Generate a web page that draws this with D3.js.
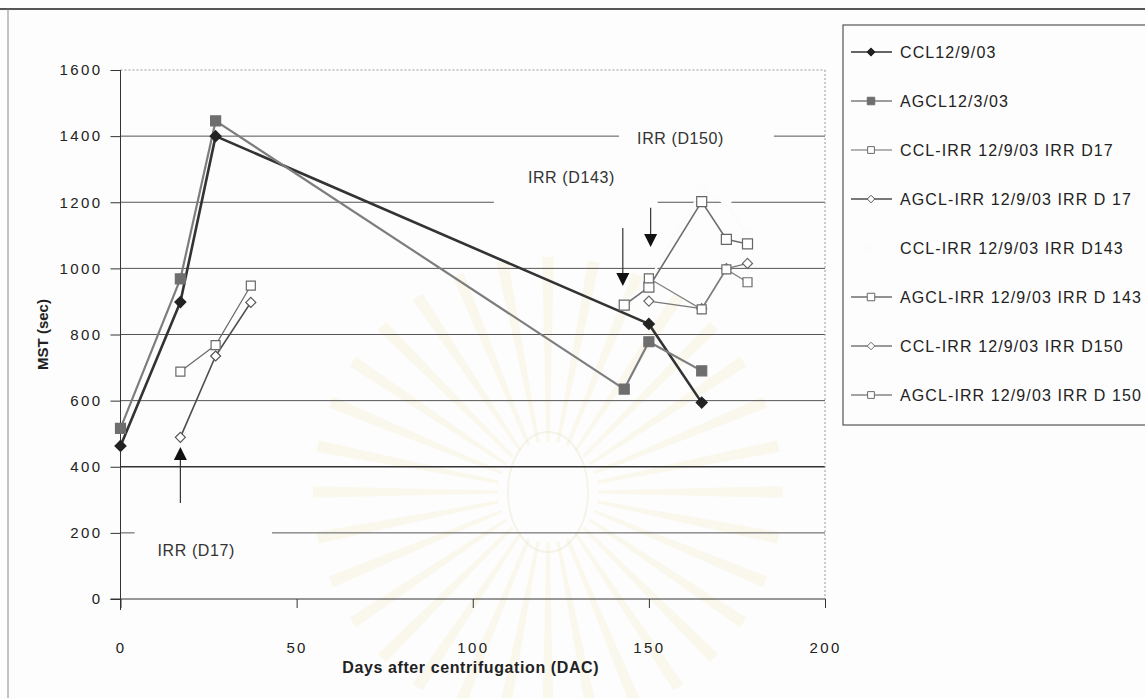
<!DOCTYPE html>
<html><head><meta charset="utf-8">
<script src="https://cdn.jsdelivr.net/npm/d3@7"></script>
<style>
html,body{margin:0;padding:0;background:#fff;}
svg{display:block;font-family:"Liberation Sans",Arial,sans-serif;}
</style></head><body>
<svg id="chart" width="1145" height="698"></svg>
<script>
// MST (mean survival time) after centrifugation, control vs. irradiated lots
const seriesNames = [
  "CCL12/9/03", "AGCL12/3/03",
  "CCL-IRR 12/9/03 IRR D17", "AGCL-IRR 12/9/03 IRR D 17",
  "CCL-IRR 12/9/03 IRR D143", "AGCL-IRR 12/9/03 IRR D 143",
  "CCL-IRR 12/9/03 IRR D150", "AGCL-IRR 12/9/03 IRR D 150"
];
const cclDay = [0, 17, 27, 150, 165];
const cclMst = [463, 898, 1400, 832, 594];
const agclDay = [0, 17, 27, 143, 150, 165];
const agclMst = [516, 968, 1446, 635, 778, 690];
const cclIrr17Day = [17, 27, 37];
const cclIrr17Mst = [688, 768, 948];
const agclIrr17Day = [17, 27, 37];
const agclIrr17Mst = [489, 735, 897];
const cclIrr143Day = [143, 150, 165, 172, 178];
const cclIrr143Mst = [895, 962, 1235, 1195, 1100];
const agclIrr143Day = [143, 150, 165, 172, 178];
const agclIrr143Mst = [889, 943, 1202, 1088, 1074];
const cclIrr150Day = [150, 165, 172, 178];
const cclIrr150Mst = [901, 878, 999, 1015];
const agclIrr150Day = [150, 165, 172, 178];
const agclIrr150Mst = [970, 876, 997, 958];

const xTicks = [0, 50, 100, 150, 200];
const yTicks = [0, 200, 400, 600, 800, 1000, 1200, 1400, 1600];

// irradiation markers: label text, label anchor (day, MST)
const noteText = ["IRR (D17)", "IRR (D143)", "IRR (D150)"];
const noteDay = [21.5, 128, 159];
const noteMst = [145, 1273, 1391];
// arrows: day, tail MST, head MST
const arrowDay = [17, 142.6, 150.5];
const arrowFrom = [290, 1122, 1183];
const arrowTo = [460, 947, 1065];

const W = 1145, H = 698;
const svg = d3.select("#chart");
const x = d3.scaleLinear().domain([0, 200]).range([120.5, 825]);
const y = d3.scaleLinear().domain([0, 1600]).range([599, 70]);

svg.append("rect").attr("width", W).attr("height", H).attr("fill", "#fdfdfd");

// faint seal watermark behind the plot
const wm = svg.append("g").attr("transform", "translate(548,492)");
d3.range(32).forEach(i => {
  const a = i / 32 * 2 * Math.PI, da = 0.05;
  const r0 = 50, r1 = 235;
  const p = [[r0 * Math.cos(a - da * 0.6), r0 * Math.sin(a - da * 0.6)],
             [r1 * Math.cos(a - da * 0.5), r1 * Math.sin(a - da * 0.5)],
             [r1 * Math.cos(a + da * 0.5), r1 * Math.sin(a + da * 0.5)],
             [r0 * Math.cos(a + da * 0.6), r0 * Math.sin(a + da * 0.6)]];
  wm.append("path").attr("d", "M" + p.join("L") + "Z")
    .attr("fill", "#f3e4b4").attr("opacity", 0.22);
});
wm.append("ellipse").attr("rx", 40).attr("ry", 60).attr("fill", "none")
  .attr("stroke", "#ece3cb").attr("stroke-width", 2).attr("opacity", 0.4);

// outer frame
svg.append("line").attr("x1", 0).attr("x2", W).attr("y1", 9).attr("y2", 9)
  .attr("stroke", "#555").attr("stroke-width", 2);
svg.append("line").attr("x1", 8).attr("x2", 8).attr("y1", 9).attr("y2", H)
  .attr("stroke", "#888").attr("stroke-width", 1);

// gridlines
const grid = svg.append("g");
yTicks.filter(v => v > 0 && v < 1600).forEach(v => {
  grid.append("line").attr("x1", x(0)).attr("x2", x(200))
    .attr("y1", y(v)).attr("y2", y(v))
    .attr("stroke", v === 400 ? "#333" : "#555")
    .attr("stroke-width", v === 400 ? 1.6 : 1);
});
grid.append("line").attr("x1", x(0)).attr("x2", x(200)).attr("y1", y(1600)).attr("y2", y(1600))
  .attr("stroke", "#999").attr("stroke-dasharray", "2,2");
grid.append("line").attr("x1", x(200)).attr("x2", x(200)).attr("y1", y(1600)).attr("y2", y(0))
  .attr("stroke", "#999").attr("stroke-dasharray", "2,2");

// white boxes behind annotation labels
const boxes = [[4, 43, 100, 233], [106, 152.5, 1175, 1330], [141.5, 185.5, 1355, 1445]];
boxes.forEach(b => {
  svg.append("rect").attr("x", x(b[0])).attr("y", y(b[3]))
    .attr("width", x(b[1]) - x(b[0])).attr("height", y(b[2]) - y(b[3]))
    .attr("fill", "#fdfdfd");
});

// axes
const tickFont = g => g.selectAll("text")
  .attr("font-size", 15).attr("fill", "#222").attr("letter-spacing", "2.4px")
  .attr("font-family", "'Liberation Sans',Arial,sans-serif");
const yAxis = svg.append("g").attr("transform", `translate(${x(0)},0)`)
  .call(d3.axisLeft(y).tickValues(yTicks).tickSize(10).tickPadding(8).tickFormat(d3.format("d")));
yAxis.select(".domain").attr("stroke", "#333").attr("d", `M0,${y(1600)}V${y(0) + 11}`);
yAxis.selectAll(".tick line").attr("stroke", "#333");
yAxis.call(tickFont);
const xAxis = svg.append("g").attr("transform", `translate(0,${y(0)})`)
  .call(d3.axisBottom(x).tickValues(xTicks).tickSize(9).tickPadding(34));
xAxis.select(".domain").attr("stroke", "#333").attr("d", `M${x(0) - 10},0H${x(200)}`);
xAxis.selectAll(".tick line").attr("stroke", "#333");
xAxis.call(tickFont);

svg.append("text").attr("x", (x(0) + x(200)) / 2 - 2).attr("y", 673)
  .attr("text-anchor", "middle").attr("font-size", 16).attr("font-weight", "bold")
  .attr("letter-spacing", "0.6px").attr("fill", "#222").text("Days after centrifugation (DAC)");
svg.append("text").attr("transform", `translate(48,${(y(0) + y(1600)) / 2}) rotate(-90)`)
  .attr("text-anchor", "middle").attr("font-size", 15).attr("font-weight", "bold")
  .attr("fill", "#222").text("MST (sec)");

// series styling
const styles = [
  { days: cclDay, mst: cclMst, line: "#333", lw: 2.6, shape: "diamond", fill: "#222", stroke: "#222", size: 11 },
  { days: agclDay, mst: agclMst, line: "#7d7d7d", lw: 2.2, shape: "square", fill: "#6e6e6e", stroke: "#6e6e6e", size: 10 },
  { days: cclIrr17Day, mst: cclIrr17Mst, line: "#6a6a6a", lw: 1.2, shape: "square", fill: "#fff", stroke: "#6a6a6a", size: 9 },
  { days: agclIrr17Day, mst: agclIrr17Mst, line: "#4d4d4d", lw: 1.6, shape: "diamond", fill: "#fff", stroke: "#555", size: 10 },
  { days: cclIrr143Day, mst: cclIrr143Mst, line: "#fbfbfb", lw: 2.2, shape: "square", fill: "#fcfcfc", stroke: "#fcfcfc", size: 9 },
  { days: agclIrr143Day, mst: agclIrr143Mst, line: "#6e6e6e", lw: 1.6, shape: "square", fill: "#fff", stroke: "#666", size: 10 },
  { days: cclIrr150Day, mst: cclIrr150Mst, line: "#777", lw: 1.3, shape: "diamond", fill: "#fff", stroke: "#666", size: 10 },
  { days: agclIrr150Day, mst: agclIrr150Mst, line: "#858585", lw: 1.3, shape: "square", fill: "#fff", stroke: "#6a6a6a", size: 9 }
];

const markerPath = (shape, s) => {
  const h = s / 2;
  return shape === "square"
    ? `M${-h},${-h}H${h}V${h}H${-h}Z`
    : `M0,${-h}L${h},0L0,${h}L${-h},0Z`;
};

const lineGen = d3.line().x(d => x(d[0])).y(d => y(d[1]));
const plot = svg.append("g");
styles.forEach(s => {
  const pts = s.days.map((d, i) => [d, s.mst[i]]);
  plot.append("path").datum(pts).attr("d", lineGen).attr("fill", "none")
    .attr("stroke", s.line).attr("stroke-width", s.lw).attr("stroke-linejoin", "round");
});
styles.forEach(s => {
  const pts = s.days.map((d, i) => [d, s.mst[i]]);
  plot.selectAll(null).data(pts).join("path")
    .attr("transform", d => `translate(${x(d[0])},${y(d[1])})`)
    .attr("d", markerPath(s.shape, s.size))
    .attr("fill", s.fill).attr("stroke", s.stroke).attr("stroke-width", 1.2);
});

// annotation labels and arrows
noteText.forEach((t, i) => {
  svg.append("text").attr("x", x(noteDay[i])).attr("y", y(noteMst[i]) + 5)
    .attr("text-anchor", "middle").attr("font-size", 16).attr("letter-spacing", "0.6px")
    .attr("fill", "#333").text(t);
});
arrowDay.forEach((d, i) => {
  const x0 = x(d), yTail = y(arrowFrom[i]), yHead = y(arrowTo[i]);
  const dir = yHead < yTail ? -1 : 1;
  const headLen = 13;
  svg.append("line").attr("x1", x0).attr("x2", x0).attr("y1", yTail).attr("y2", yHead - dir * headLen)
    .attr("stroke", "#333").attr("stroke-width", 1.2);
  svg.append("path")
    .attr("d", `M${x0},${yHead}L${x0 - 6.5},${yHead - dir * headLen}L${x0 + 6.5},${yHead - dir * headLen}Z`)
    .attr("fill", "#111");
});

// legend
const lg = svg.append("g");
lg.append("rect").attr("x", 843).attr("y", 25).attr("width", 330).attr("height", 400)
  .attr("fill", "#fdfdfd").attr("stroke", "#555").attr("stroke-width", 1.2);
seriesNames.forEach((name, i) => {
  const s = styles[i], yy = 52 + i * 49;
  lg.append("line").attr("x1", 851).attr("x2", 892).attr("y1", yy).attr("y2", yy)
    .attr("stroke", s.line).attr("stroke-width", Math.min(s.lw, 1.6));
  lg.append("path").attr("transform", `translate(871,${yy})`)
    .attr("d", markerPath(s.shape, s.size * 0.75))
    .attr("fill", s.fill).attr("stroke", s.stroke).attr("stroke-width", 1);
  lg.append("text").attr("x", 900).attr("y", yy + 6).attr("font-size", 16)
    .attr("letter-spacing", "1.1px").attr("fill", "#222").text(name);
});
</script>
</body></html>
